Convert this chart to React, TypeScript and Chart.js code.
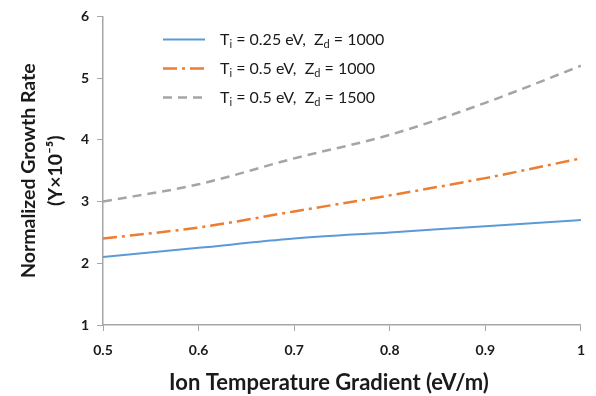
import React, { useEffect, useRef } from "react";
import { Chart, registerables } from "chart.js";

Chart.register(...registerables);

const xValues = [0.5, 0.6, 0.7, 0.8, 0.9, 1.0];
const seriesA = [2.1, 2.25, 2.4, 2.5, 2.6, 2.7];
const seriesB = [2.4, 2.58, 2.84, 3.1, 3.38, 3.7];
const seriesC = [3.0, 3.28, 3.7, 4.08, 4.6, 5.2];
const seriesLabels = [
  "T_i = 0.25 eV,  Z_d = 1000",
  "T_i = 0.5 eV,  Z_d = 1000",
  "T_i = 0.5 eV,  Z_d = 1500",
];
const xTitle = "Ion Temperature Gradient (eV/m)";
const yTitle = ["Normalized Growth Rate", "(\u03A5\u00D710\u207B\u2075)"];

const FONT = "Lato, 'Open Sans', sans-serif";

function drawRich(ctx: CanvasRenderingContext2D, text: string, x: number, y: number, size: number) {
  let cx = x;
  let i = 0;
  while (i < text.length) {
    if (text[i] === "_" && i + 1 < text.length) {
      ctx.font = `${Math.round(size * 0.7)}px ${FONT}`;
      ctx.fillText(text[i + 1], cx, y + size * 0.3);
      cx += ctx.measureText(text[i + 1]).width;
      i += 2;
    } else {
      let j = i;
      while (j < text.length && text[j] !== "_") j++;
      const part = text.slice(i, j);
      ctx.font = `${size}px ${FONT}`;
      ctx.fillText(part, cx, y);
      cx += ctx.measureText(part).width;
      i = j;
    }
  }
}

const legendPlugin = {
  id: "innerLegend",
  afterDraw(chart: any) {
    const ctx = chart.ctx as CanvasRenderingContext2D;
    const area = chart.chartArea;
    const x0 = area.left + 60;
    const y0 = area.top + 23;
    const rowH = 29;
    chart.data.datasets.forEach((ds: any, idx: number) => {
      const y = y0 + idx * rowH;
      ctx.save();
      ctx.strokeStyle = ds.borderColor;
      ctx.lineWidth = ds.borderWidth;
      ctx.setLineDash(ds.borderDash || []);
      ctx.beginPath();
      ctx.moveTo(x0, y);
      ctx.lineTo(x0 + 42, y);
      ctx.stroke();
      ctx.setLineDash([]);
      ctx.fillStyle = "#1a1a1a";
      ctx.textBaseline = "middle";
      ctx.textAlign = "left";
      drawRich(ctx, ds.label, x0 + 57, y, 16);
      ctx.restore();
    });
    // x-axis title (centred slightly left of the plot centre, as in the reference)
    ctx.save();
    ctx.fillStyle = "#1a1a1a";
    ctx.font = `bold 22px ${FONT}`;
    ctx.textAlign = "center";
    ctx.textBaseline = "middle";
    ctx.fillText(xTitle, (area.left + area.right) / 2 - 13, 383);
    ctx.restore();
  },
};

export default function App() {
  const ref = useRef<HTMLCanvasElement | null>(null);
  useEffect(() => {
    if (!ref.current) return;
    const mk = (vals: number[]) => xValues.map((x, i) => ({ x, y: vals[i] }));
    const chart = new Chart(ref.current, {
      type: "line",
      data: {
        datasets: [
          { label: seriesLabels[0], data: mk(seriesA), borderColor: "#5b9bd5", borderWidth: 2, pointRadius: 0, tension: 0.4, cubicInterpolationMode: "monotone" },
          { label: seriesLabels[1], data: mk(seriesB), borderColor: "#ed7d31", borderWidth: 2.5, borderDash: [14, 5, 3, 5], pointRadius: 0, tension: 0.4, cubicInterpolationMode: "monotone" },
          { label: seriesLabels[2], data: mk(seriesC), borderColor: "#a5a5a5", borderWidth: 2.5, borderDash: [9, 6], pointRadius: 0, tension: 0.4, cubicInterpolationMode: "monotone" },
        ] as any,
      },
      options: {
        animation: false,
        responsive: false,
        maintainAspectRatio: false,
        layout: { padding: { top: 14, right: 9, left: 0, bottom: 0 } },
        plugins: { legend: { display: false }, tooltip: { enabled: false } },
        scales: {
          x: {
            type: "linear",
            min: 0.5,
            max: 1,
            border: { color: "#a6a6a6", width: 1.5 },
            grid: { drawOnChartArea: false, drawTicks: true, tickLength: 6, color: "#a6a6a6" },
            ticks: {
              stepSize: 0.1,
              color: "#1a1a1a",
              font: { family: FONT, size: 14, weight: "bold" },
              padding: 11,
              maxRotation: 0,
              callback: (v: any) => String(Math.round(Number(v) * 10) / 10),
            },
            title: { display: false },
            afterFit: (s: any) => { s.height = 71; },
          },
          y: {
            min: 1,
            max: 6,
            border: { color: "#a6a6a6", width: 1.5 },
            grid: { drawOnChartArea: false, drawTicks: true, tickLength: 6, color: "#a6a6a6" },
            ticks: { stepSize: 1, color: "#1a1a1a", font: { family: FONT, size: 14, weight: "bold" }, padding: 8 },
            title: { display: true, text: yTitle, color: "#1a1a1a", font: { family: FONT, size: 19.5, weight: "bold", lineHeight: 1.35 }, padding: { top: 16, bottom: 0 } },
            afterFit: (s: any) => { s.width = 103; },
          },
        },
      } as any,
      plugins: [legendPlugin],
    });
    return () => chart.destroy();
  }, []);
  return (
    <div style={{ position: "absolute", left: 0, top: 0, width: 596, height: 396, background: "#fff" }}>
      <canvas ref={ref} width={596} height={396} style={{ width: 596, height: 396, display: "block" }} />
    </div>
  );
}
